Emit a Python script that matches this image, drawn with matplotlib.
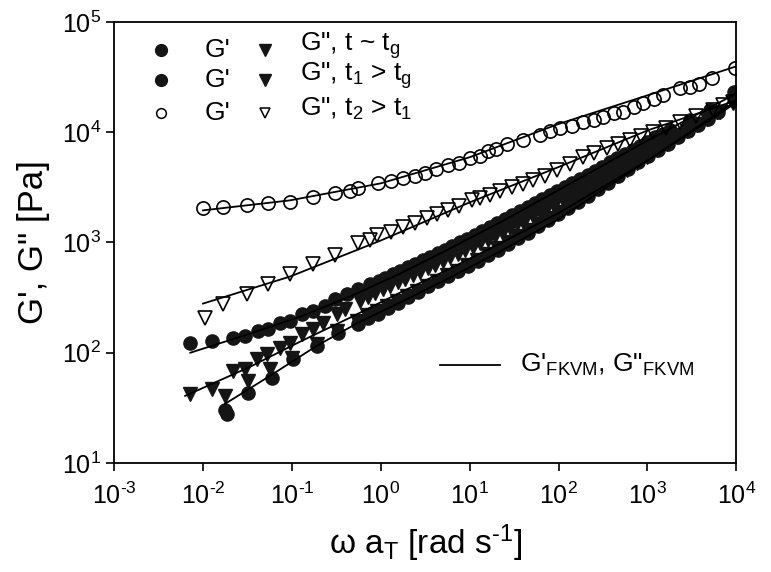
import matplotlib
matplotlib.use('Agg')
import matplotlib.pyplot as plt
from matplotlib.ticker import FuncFormatter
import numpy as np

plt.rcParams['font.family'] = ['Liberation Sans', 'DejaVu Sans']
plt.rcParams['mathtext.fontset'] = 'custom'
plt.rcParams['mathtext.rm'] = 'Liberation Sans'
plt.rcParams['mathtext.it'] = 'Liberation Sans'
plt.rcParams['mathtext.default'] = 'regular'

# G' open circles, t2 > t1
w_open_c = [0.01, 0.0168, 0.0313, 0.054, 0.0955, 0.173, 0.306, 0.556, 0.933, 1.78, 3.15,
            5.71, 10.1, 16.1, 26.4, 62, 104, 189, 317, 532, 892, 1497, 2326, 3015, 5330, 9660,
            0.45, 1.3, 2.4, 4.2, 7.5, 13, 20, 40, 80, 140, 250, 420, 700, 1200, 3800]
g_open_c = [2037, 2080, 2170, 2263, 2310, 2565, 2790, 3097, 3437, 3817, 4238,
            5012, 5800, 6700, 7900, 9400, 10870, 12330, 13690, 15200, 18360, 21700, 25120, 25660, 30980, 38190,
            2950, 3600, 4000, 4600, 5300, 6100, 7000, 8500, 10200, 11500, 13000, 14800, 17000, 20000, 27500]

# G'' open triangles, t2 > t1
w_open_t = [0.0106, 0.0168, 0.0313, 0.054, 0.0955, 0.173, 0.306, 0.556, 0.908, 1.78, 3.32,
            5.71, 10.6, 16.9, 30, 51.7, 96, 189, 352, 637, 1155, 2326, 5470, 9190,
            0.75, 1.3, 2.4, 4.3, 7.5, 13, 22, 40, 70, 135, 250, 470, 850, 1600, 3500, 7000]
g_open_t = [208, 279, 344, 424, 522, 644, 762, 980, 1158, 1369, 1652,
            1954, 2410, 2675, 3162, 3660, 4520, 5930, 7160, 8460, 10000, 12330, 15850, 18750,
            1050, 1250, 1500, 1800, 2150, 2550, 2900, 3400, 4000, 5200, 6500, 7800, 9300, 11000, 14000, 17500]

# G' filled circles, t ~ tg
w_fill_c1 = [0.00716, 0.01265, 0.0218, 0.0298, 0.0417, 0.054, 0.0736, 0.0955, 0.13, 0.173, 0.236,
             0.306, 0.418, 0.556, 0.759, 1.12, 1.65, 2.43, 3.59, 5.29, 7.8, 11.5, 16.9, 25.0, 36.9,
             54.4, 80.2, 118, 175, 258, 380, 560, 826, 1220, 1795, 3015, 5060, 9500,
             0.95, 1.37, 2.0, 2.95, 4.35, 6.4, 9.4, 13.9, 20.5, 30.3, 44.8, 66, 97, 143, 212,
             312, 460, 680, 1000, 1500]
g_fill_c1 = [123, 129, 137, 143, 158, 165, 187, 195, 226, 241, 267,
             310, 344, 382, 424, 481, 556, 644, 746, 863, 1000, 1158, 1369, 1618, 1914,
             2263, 2675, 3162, 3738, 4419, 5337, 6310, 7460, 9010, 10420, 12850, 15850, 23100,
             450, 518, 600, 693, 803, 930, 1075, 1270, 1490, 1760, 2080, 2460, 2910, 3440, 4060,
             4850, 5800, 6880, 8200, 9700]

# G'' filled triangles, t ~ tg
w_fill_t1 = [0.00716, 0.01265, 0.0218, 0.0298, 0.0407, 0.0526, 0.0736, 0.0955, 0.13, 0.173, 0.224,
             0.322, 0.396, 0.585, 0.863, 1.27, 1.88, 2.77, 4.08, 6.02, 8.88, 13.1, 19.3, 28.5, 42.0,
             61.9, 91.3, 135, 199, 293, 432, 637, 940, 1387, 2326, 3908, 6560, 9190,
             0.71, 1.05, 1.55, 2.28, 3.36, 4.95, 7.3, 10.8, 15.9, 23.5, 34.5, 51, 75, 111, 164,
             242, 357, 525, 775, 1140, 1800, 3000]
g_fill_t1 = [42.4, 47.1, 68.6, 71.6, 88.2, 97.9, 111, 123, 149, 165, 187,
             226, 251, 297, 351, 406, 471, 545, 631, 731, 846, 980, 1134, 1341, 1585,
             1874, 2215, 2619, 3097, 3660, 4419, 5337, 6310, 7620, 9400, 11830, 15200, 18360,
             323, 378, 437, 506, 587, 680, 787, 912, 1057, 1232, 1460, 1722, 2040, 2410, 2850,
             3370, 4020, 4860, 5800, 6950, 8500, 10500]

# G'' filled triangles, t1 > tg
w_fill_t2 = [0.0177, 0.0321, 0.0569, 0.1005, 0.192, 0.322, 0.541, 0.908, 1.52, 2.56, 4.29, 7.21,
             12.1, 20.3, 34.1, 57.3, 96.1, 161, 271, 455, 764, 1282, 2153, 3613, 6067, 9660,
             0.7, 1.17, 1.97, 3.3, 5.6, 9.3, 15.7, 26.3, 44, 74, 125, 210, 350, 590, 990,
             1660, 2790, 4700]
g_fill_t2 = [40.6, 55.6, 71.6, 90.1, 121, 158, 195, 241, 297, 366, 451, 556,
             700, 882, 1134, 1459, 1874, 2410, 3097, 3981, 5220, 6860, 9010, 11580, 15200, 19540,
             218, 268, 330, 405, 503, 625, 790, 1000, 1285, 1650, 2130, 2730, 3500, 4560, 5970,
             7850, 10200, 13300]

# G' filled circles, t1 > tg
w_fill_c2 = [0.0187, 0.0175, 0.0321, 0.0598, 0.103, 0.192, 0.331, 0.556, 0.933, 1.57, 2.63, 4.42, 7.41,
             12.4, 20.8, 35.0, 58.8, 98.6, 166, 278, 467, 783, 1315, 2208, 3707, 6223, 9900,
             0.72, 1.21, 2.03, 3.41, 5.72, 9.6, 16, 27, 45.4, 76, 128, 215, 362, 605, 1015,
             1700, 2870, 4800]
g_fill_c2 = [27.9, 30, 43.3, 59.3, 88.2, 116, 152, 184, 226, 285, 359, 451, 556,
             686, 863, 1087, 1397, 1797, 2310, 3034, 3981, 5337, 6860, 9010, 11580, 15200, 22130,
             205, 254, 320, 403, 500, 618, 775, 975, 1230, 1585, 2035, 2640, 3470, 4600, 6050,
             7850, 10200, 13300]

# FKVM model curves
w_fit_a = [0.01, 0.0955, 1.0, 10, 98.6, 1016, 10190]
g_fit_open_c = [1955, 2410, 3437, 5930, 11830, 21680, 39810]
g_fit_open_t = [279, 491, 1042, 2310, 4810, 10420, 19540]
w_fit_b = [0.0072, 0.0339, 0.1236, 0.4515, 1.648, 6.02, 22.0, 98.6, 1016, 10190]
g_fit_c1 = [100, 149, 212, 323, 522, 882, 1520, 2970, 8460, 22630]
w_fit_t1 = [0.0063, 0.0339, 0.1236, 0.4515, 1.648, 6.02, 22.0, 98.6, 1016, 10190]
g_fit_t1 = [40.6, 74.6, 126, 208, 351, 580, 980, 1835, 5560, 18750]
w_fit_low = [0.01774, 0.0569, 0.192, 0.556, 1.648, 6.02, 22.0, 98.6, 1016, 10190]
g_fit_low = [34.4, 61.8, 116, 187, 285, 481, 828, 1618, 5560, 19540]

fig = plt.figure(figsize=(7.71, 5.72), dpi=100)
ax = fig.add_axes([0.148, 0.1906, 0.807, 0.771])

fc = '#151515'
ms = 9.5
for w, g in [(w_fit_a, g_fit_open_c), (w_fit_a, g_fit_open_t), (w_fit_b, g_fit_c1),
             (w_fit_t1, g_fit_t1), (w_fit_low, g_fit_low)]:
    ax.plot(w, g, color='black', lw=1.3, zorder=3)

ax.plot(w_fill_c2, g_fill_c2, 'o', ms=ms, color=fc, mec=fc, zorder=2)
ax.plot(w_fill_t2, g_fill_t2, 'v', ms=ms, color=fc, mec=fc, zorder=2)
ax.plot(w_fill_t1, g_fill_t1, 'v', ms=ms, color=fc, mec=fc, zorder=2)
ax.plot(w_fill_c1, g_fill_c1, 'o', ms=ms, color=fc, mec=fc, zorder=2)
ax.plot(w_open_c, g_open_c, 'o', ms=ms, mfc='none', mec='black', mew=1.2, zorder=4)
ax.plot(w_open_t, g_open_t, 'v', ms=ms, mfc='none', mec='black', mew=1.2, zorder=4)

ax.set_xscale('log')
ax.set_yscale('log')
ax.set_xlim(1e-3, 1e4)
ax.set_ylim(1e1, 1e5)
ax.minorticks_off()

# powers of ten with a plain hyphen, as in the original
def pow10(v, pos):
    return r'$10^{\text{%d}}$' % int(round(np.log10(v)))

ax.xaxis.set_major_formatter(FuncFormatter(pow10))
ax.yaxis.set_major_formatter(FuncFormatter(pow10))
ax.tick_params(axis='both', which='major', direction='out', length=6, width=1.2,
               labelsize=18, top=False, right=False)
ax.tick_params(axis='x', pad=8)
for s in ax.spines.values():
    s.set_linewidth(1.3)

ax.set_xlabel(r'ω a$_\mathregular{T}$ [rad s$^\text{-1}$]', fontsize=24, labelpad=10)
ax.set_ylabel('G\', G" [Pa]', fontsize=25, labelpad=8)

# legend, drawn by hand
rows = [0.937, 0.868, 0.794]
labels = [r'G", t ~ t$_\mathregular{g}$', r'G", t$_\mathregular{1}$ > t$_\mathregular{g}$',
          r'G", t$_\mathregular{2}$ > t$_\mathregular{1}$']
for i, (yy, lab) in enumerate(zip(rows, labels)):
    if i < 2:
        ax.plot(0.0756, yy, 'o', ms=8.5, color=fc, transform=ax.transAxes, clip_on=False)
        ax.plot(0.243, yy, 'v', ms=8.5, color=fc, transform=ax.transAxes, clip_on=False)
    else:
        ax.plot(0.0756, yy, 'o', ms=7, mfc='none', mec='black', mew=1.1, transform=ax.transAxes)
        ax.plot(0.243, yy, 'v', ms=7, mfc='none', mec='black', mew=1.1, transform=ax.transAxes)
    ax.text(0.146, yy, "G'", fontsize=19, va='center', transform=ax.transAxes)
    ax.text(0.299, yy + 0.01, lab, fontsize=19, va='center', transform=ax.transAxes)

ax.plot([0.524, 0.621], [0.222, 0.222], color='black', lw=1.3, transform=ax.transAxes)
fkvm = r"G'$_\mathregular{FKVM}$, " + r'G"$_\mathregular{FKVM}$'
ax.text(0.653, 0.222, fkvm, fontsize=19, va='center', transform=ax.transAxes)

fig.savefig('out.png', dpi=100)
